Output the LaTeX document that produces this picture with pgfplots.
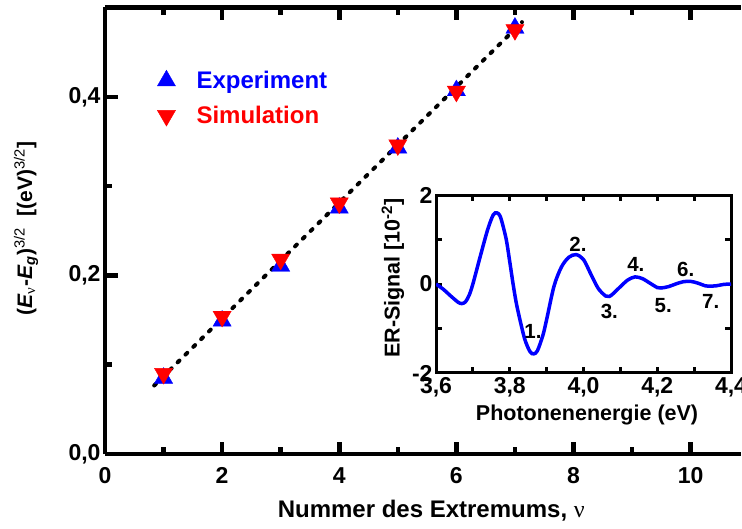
\documentclass[border=0pt]{standalone}
\usepackage{fontspec}
\setmainfont{Liberation Sans}
\newfontfamily\greekserif{Liberation Serif}
\usepackage{pgfplots}
\usepackage{pgfplotstable}
\pgfplotsset{compat=1.18}

\newcommand\ticks{\fontsize{23bp}{27bp}\selectfont\bfseries}
\newcommand\lab{\fontsize{24bp}{28bp}\selectfont\bfseries}
\newcommand\ylab{\fontsize{21bp}{25bp}\selectfont\bfseries}
\newcommand\inlab{\fontsize{21.5bp}{25bp}\selectfont\bfseries}
\newcommand\num{\fontsize{20.5bp}{24bp}\selectfont\bfseries}
\newcommand\nuchar{{\greekserif\mdseries ν}}

% nu = 1..7: extremum energies, (E_nu - E_g)^{3/2}
\pgfplotstableread{
nu  exp     sim
1   0.085   0.090
2   0.149   0.154
3   0.2105  0.218
4   0.2755  0.281
5   0.3427  0.346
6   0.407   0.406
7   0.477   0.475
}\extrema

\pgfplotsset{
  commafmt/.style={
    /pgf/number format/use comma,
    /pgf/number format/fixed,
    /pgf/number format/fixed zerofill,
    /pgf/number format/precision=1},
}

\begin{document}
\begin{tikzpicture}
\useasboundingbox (-105bp,-75bp) rectangle (637bp,454bp);

\begin{axis}[
  at={(0,0)}, anchor=south west,
  scale only axis, width=636bp, height=446.5bp,
  xmin=0, xmax=10.86, ymin=0, ymax=0.5,
  axis x line=box, axis y line*=left,
  axis line style={line width=4.5bp},
  tick style={line width=4.5bp, black},
  tick align=inside,
  major tick length=12.5bp, minor tick length=7.5bp,
  xtick={0,2,4,6,8,10}, minor xtick={1,3,5,7,9},
  ytick={0,0.2,0.4}, minor ytick={0.1,0.3},
  /pgf/number format/assume math mode=true,
  ticklabel style={font=\ticks},
  yticklabel style={commafmt, xshift=-1bp},
  xticklabel style={yshift=-10bp},
  xlabel={Nummer des Extremums, \nuchar},
  ylabel={(\textit{E}\textsubscript{\nuchar}-\textit{E}\textsubscript{\textit{g}})\textsuperscript{\mdseries 3/2}\hspace{12bp}[(eV)\textsuperscript{\mdseries 3/2}]},
  x label style={font=\lab, at={(axis description cs:0.513,-0.128)}, anchor=center},
  y label style={font=\ylab, at={(axis description cs:-0.124,0.505)}, anchor=center},
  legend style={draw=none, fill=none, inner sep=0pt,
    at={(axis description cs:0.082,0.862)}, anchor=north west,
    font=\fontsize{24bp}{28bp}\selectfont\bfseries,
    row sep=12bp,
    /tikz/every odd column/.append style={column sep=19bp}},
  legend cell align=left,
]
\addplot[only marks, mark=triangle*, mark size=10.5bp, blue, mark options={draw=blue, fill=blue}]
  table[x=nu, y=exp] {\extrema};
\addlegendentry{\textcolor{blue}{Experiment}}
\addplot[only marks, mark=triangle*, mark size=10.5bp, red, mark options={draw=red, fill=red, rotate=180}]
  table[x=nu, y=sim] {\extrema};
\addlegendentry{\textcolor{red}{Simulation}}
% linear fit through the extrema
\addplot[forget plot, black, line width=4bp, line cap=round, dash pattern=on 2.5bp off 8.5bp]
  coordinates {(0.84,0.0767) (7.12,0.4836)};
\end{axis}

\begin{axis}[
  at={(331bp,81bp)}, anchor=south west,
  scale only axis, width=295bp, height=178bp,
  xmin=3.6, xmax=4.4, ymin=-2, ymax=2,
  axis line style={line width=3bp},
  tick style={line width=3bp, black},
  tick align=inside,
  major tick length=6bp, minor tick length=6bp,
  xtick={3.6,3.8,4.0,4.2,4.4}, minor xtick={3.7,3.9,4.1,4.3},
  ytick={-2,0,2}, minor ytick={-1,1},
  /pgf/number format/assume math mode=true,
  ticklabel style={font=\ticks},
  xticklabel style={commafmt, yshift=-1bp},
  xlabel={Photonenenergie (eV)},
  ylabel={ER-Signal [10\textsuperscript{-2}]},
  label style={font=\inlab},
  x label style={at={(axis description cs:0.512,-0.236)}, anchor=center},
  y label style={at={(axis description cs:-0.146,0.534)}, anchor=center},
]
\addplot[blue, line width=3.5bp, smooth] coordinates {
 (3.60,0.00) (3.62,-0.12) (3.64,-0.27) (3.66,-0.41) (3.67,-0.44) (3.68,-0.40)
 (3.69,-0.25) (3.70,0.00) (3.72,0.62) (3.74,1.22) (3.755,1.55) (3.765,1.60)
 (3.775,1.50) (3.79,1.02) (3.80,0.50) (3.81,-0.05) (3.82,-0.52) (3.84,-1.22)
 (3.855,-1.52) (3.865,-1.57) (3.875,-1.50) (3.89,-1.15) (3.90,-0.80) (3.92,-0.05)
 (3.94,0.38) (3.96,0.60) (3.98,0.66) (4.00,0.55) (4.02,0.22) (4.04,-0.10)
 (4.06,-0.27) (4.07,-0.28) (4.08,-0.22) (4.10,-0.06) (4.12,0.09) (4.14,0.16)
 (4.16,0.12) (4.18,0.02) (4.20,-0.08) (4.21,-0.09) (4.23,-0.06) (4.25,0.00)
 (4.27,0.05) (4.29,0.06) (4.31,0.02) (4.33,-0.04) (4.34,-0.05) (4.36,-0.04)
 (4.38,-0.01) (4.40,0.00)
};
\node[font=\num] at (axis cs:3.863,-1.07) {1.};
\node[font=\num] at (axis cs:3.985,0.88) {2.};
\node[font=\num] at (axis cs:4.070,-0.62) {3.};
\node[font=\num] at (axis cs:4.142,0.43) {4.};
\node[font=\num] at (axis cs:4.216,-0.49) {5.};
\node[font=\num] at (axis cs:4.277,0.32) {6.};
\node[font=\num] at (axis cs:4.345,-0.39) {7.};
\end{axis}
\end{tikzpicture}
\end{document}
